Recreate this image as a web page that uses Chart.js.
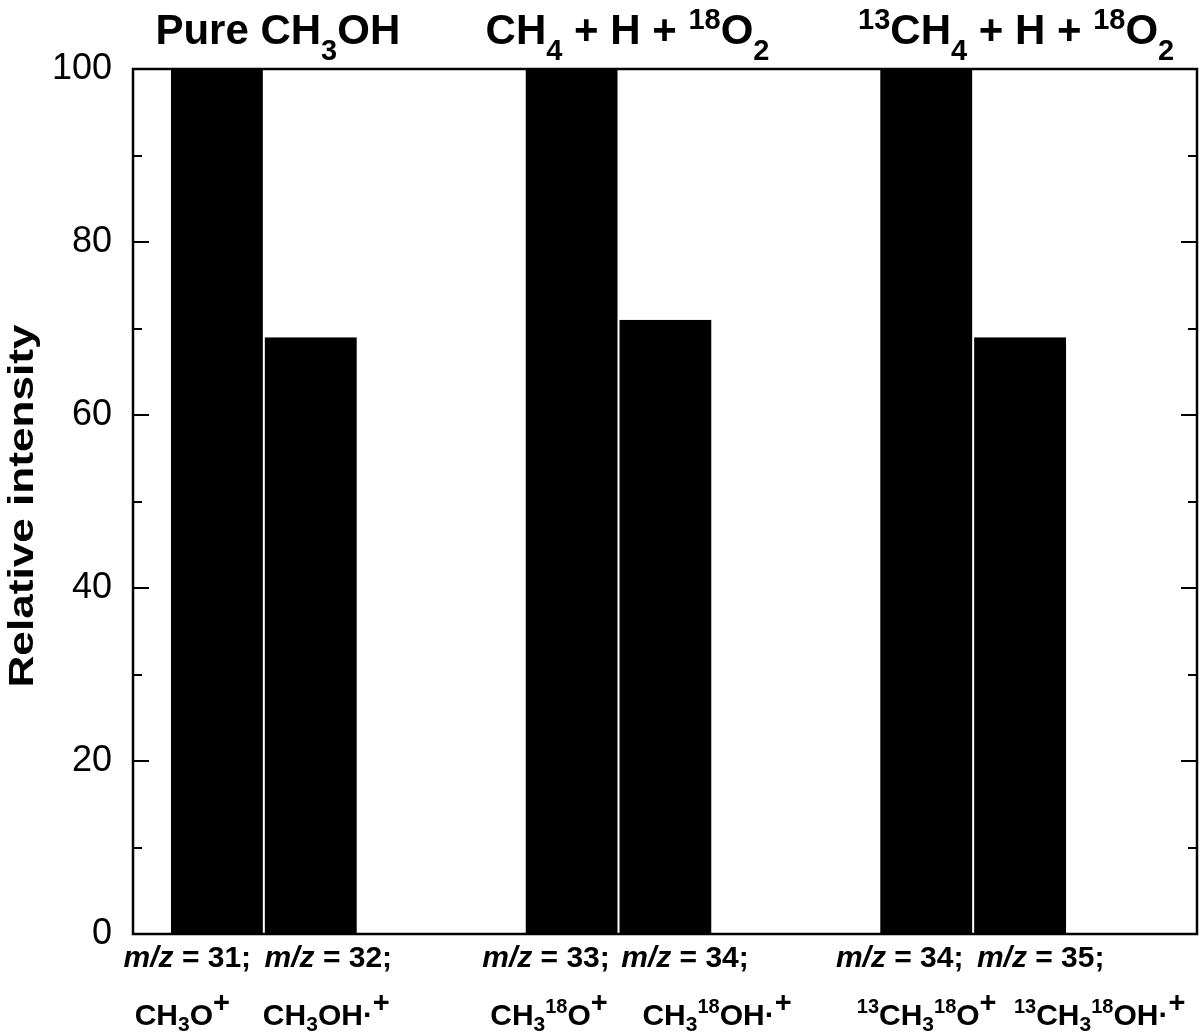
<!DOCTYPE html>
<html>
<head>
<meta charset="utf-8">
<script src="https://cdn.jsdelivr.net/npm/chart.js@4/dist/chart.umd.min.js"></script>
<style>
  html, body { margin: 0; padding: 0; background: #fff; }
  #wrap { width: 1200px; height: 1034px; }
</style>
</head>
<body>
<div id="wrap"><canvas id="myChart" width="1200" height="1034"></canvas></div>
<script>
// data
const groupNames = ['Pure CH3OH', 'CH4 + H + 18O2', '13CH4 + H + 18O2'];
const fragmentIon = [100, 100, 100];   // CH3O+ type peaks
const molecularIon = [69, 71, 69];     // CH3OH.+ type peaks
const yTickValues = [0, 20, 40, 60, 80, 100];
const massNumbers = ['31', '32', '33', '34', '34', '35'];

// rich text pieces: [text, kind]  kind = n | i | sub | sup | chg
const groupTitles = [
  [['Pure CH', 'n'], ['3', 'sub'], ['OH', 'n']],
  [['CH', 'n'], ['4', 'sub'], [' + H + ', 'n'], ['18', 'sup'], ['O', 'n'], ['2', 'sub']],
  [['13', 'sup'], ['CH', 'n'], ['4', 'sub'], [' + H + ', 'n'], ['18', 'sup'], ['O', 'n'], ['2', 'sub']]
];
const ionLabels = [
  [['CH', 'n'], ['3', 'sub'], ['O', 'n'], ['+', 'chg']],
  [['CH', 'n'], ['3', 'sub'], ['OH\u00b7', 'n'], ['+', 'chg']],
  [['CH', 'n'], ['3', 'sub'], ['18', 'sup'], ['O', 'n'], ['+', 'chg']],
  [['CH', 'n'], ['3', 'sub'], ['18', 'sup'], ['OH\u00b7', 'n'], ['+', 'chg']],
  [['13', 'sup'], ['CH', 'n'], ['3', 'sub'], ['18', 'sup'], ['O', 'n'], ['+', 'chg']],
  [['13', 'sup'], ['CH', 'n'], ['3', 'sub'], ['18', 'sup'], ['OH\u00b7', 'n'], ['+', 'chg']]
];

const FONT = '"Liberation Sans", Arial, Helvetica, sans-serif';

// label placement (px shift of text centre from its bar / pair centre)
const titleShift = [14, 9, 43];
const massShift = [-30, 18, -26, 20, -27, 21];
const ionShift = [-35, 16, -23, 52, 0, 80];

const titleStyle = { size: 42, subSize: 29, subDy: 16, supSize: 29, supDy: -15, chgSize: 29, chgDy: -15 };
const massStyle = { size: 30, subSize: 20, subDy: 5, supSize: 20, supDy: -11, chgSize: 28, chgDy: -12 };
const ionStyle = { size: 30, subSize: 21, subDy: 6, supSize: 20, supDy: -12, chgSize: 29, chgDy: -13 };

function segFont(kind, st) {
  if (kind === 'i') return `italic bold ${st.size}px ${FONT}`;
  if (kind === 'sub') return `bold ${st.subSize}px ${FONT}`;
  if (kind === 'sup') return `bold ${st.supSize}px ${FONT}`;
  if (kind === 'chg') return `bold ${st.chgSize}px ${FONT}`;
  return `bold ${st.size}px ${FONT}`;
}
function segDy(kind, st) {
  if (kind === 'sub') return st.subDy;
  if (kind === 'sup') return st.supDy;
  if (kind === 'chg') return st.chgDy;
  return 0;
}

function drawRich(ctx, segs, cx, baseY, st) {
  let total = 0;
  segs.forEach(s => {
    ctx.font = segFont(s[1], st);
    total += ctx.measureText(s[0]).width;
  });
  let x = cx - total / 2;
  ctx.textAlign = 'left';
  ctx.textBaseline = 'alphabetic';
  segs.forEach(s => {
    ctx.font = segFont(s[1], st);
    ctx.fillText(s[0], x, baseY + segDy(s[1], st));
    x += ctx.measureText(s[0]).width;
  });
}

const decorations = {
  id: 'decorations',
  afterDraw(chart) {
    const ctx = chart.ctx;
    const area = chart.chartArea;
    const y = chart.scales.y;
    ctx.save();
    ctx.fillStyle = '#000';
    ctx.strokeStyle = '#000';
    ctx.lineWidth = 2.5;

    // frame
    ctx.strokeRect(area.left, area.top, area.right - area.left, area.bottom - area.top);

    // inward ticks on both sides
    ctx.lineWidth = 2;
    for (let v = 0; v <= 100; v += 10) {
      const py = Math.round(y.getPixelForValue(v));
      const len = v % 20 === 0 ? 16 : 9;
      ctx.beginPath();
      ctx.moveTo(area.left, py);
      ctx.lineTo(area.left + len, py);
      ctx.moveTo(area.right, py);
      ctx.lineTo(area.right - len, py);
      ctx.stroke();
    }

    const m0 = chart.getDatasetMeta(0).data;
    const m1 = chart.getDatasetMeta(1).data;

    // group titles above the frame
    groupTitles.forEach((segs, i) => {
      const pairX = (m0[i].x + m1[i].x) / 2;
      drawRich(ctx, segs, pairX + titleShift[i], 44, titleStyle);
    });

    // two rows of labels under each bar
    const barXs = [];
    for (let i = 0; i < m0.length; i++) { barXs.push(m0[i].x, m1[i].x); }
    barXs.forEach((bx, k) => {
      const massSegs = [['m/z', 'i'], [' = ' + massNumbers[k] + ';', 'n']];
      drawRich(ctx, massSegs, bx + massShift[k], 967, massStyle);
      drawRich(ctx, ionLabels[k], bx + ionShift[k], 1025, ionStyle);
    });

    // y axis title, rotated
    ctx.translate(33, 506);
    ctx.rotate(-Math.PI / 2);
    ctx.font = `bold 35px ${FONT}`;
    const w = ctx.measureText('Relative intensity').width;
    ctx.scale(363 / w, 1);
    ctx.textAlign = 'center';
    ctx.textBaseline = 'alphabetic';
    ctx.fillText('Relative intensity', 0, 0);
    ctx.restore();
  }
};

const barStyle = {
  backgroundColor: '#000',
  borderColor: '#fff',
  borderSkipped: false,
  inflateAmount: 0,
  barPercentage: 1,
  categoryPercentage: 0.7867
};

new Chart(document.getElementById('myChart'), {
  type: 'bar',
  data: {
    labels: groupNames,
    datasets: [
      Object.assign({ label: 'fragment ion', data: fragmentIon,
        borderWidth: { top: 0, left: 0, bottom: 0, right: 1 } }, barStyle),
      Object.assign({ label: 'molecular ion', data: molecularIon,
        borderWidth: { top: 0, left: 1, bottom: 0, right: 0 } }, barStyle),
      // empty third slot keeps each pair left of the category centre
      Object.assign({ label: 'spacer', data: [null, null, null], borderWidth: 0 }, barStyle)
    ]
  },
  options: {
    responsive: false,
    animation: false,
    layout: { padding: { top: 69, right: 3, bottom: 100, left: 0 } },
    plugins: {
      legend: { display: false },
      tooltip: { enabled: false }
    },
    scales: {
      x: { display: false },
      y: {
        min: 0,
        max: 100,
        afterFit(scale) { scale.width = 133; },
        afterBuildTicks(scale) { scale.ticks = yTickValues.map(v => ({ value: v })); },
        grid: { display: false, drawTicks: false },
        border: { display: false },
        ticks: {
          padding: 21,
          color: '#000',
          font: { family: FONT, size: 36 }
        }
      }
    }
  },
  plugins: [decorations]
});
</script>
</body>
</html>
